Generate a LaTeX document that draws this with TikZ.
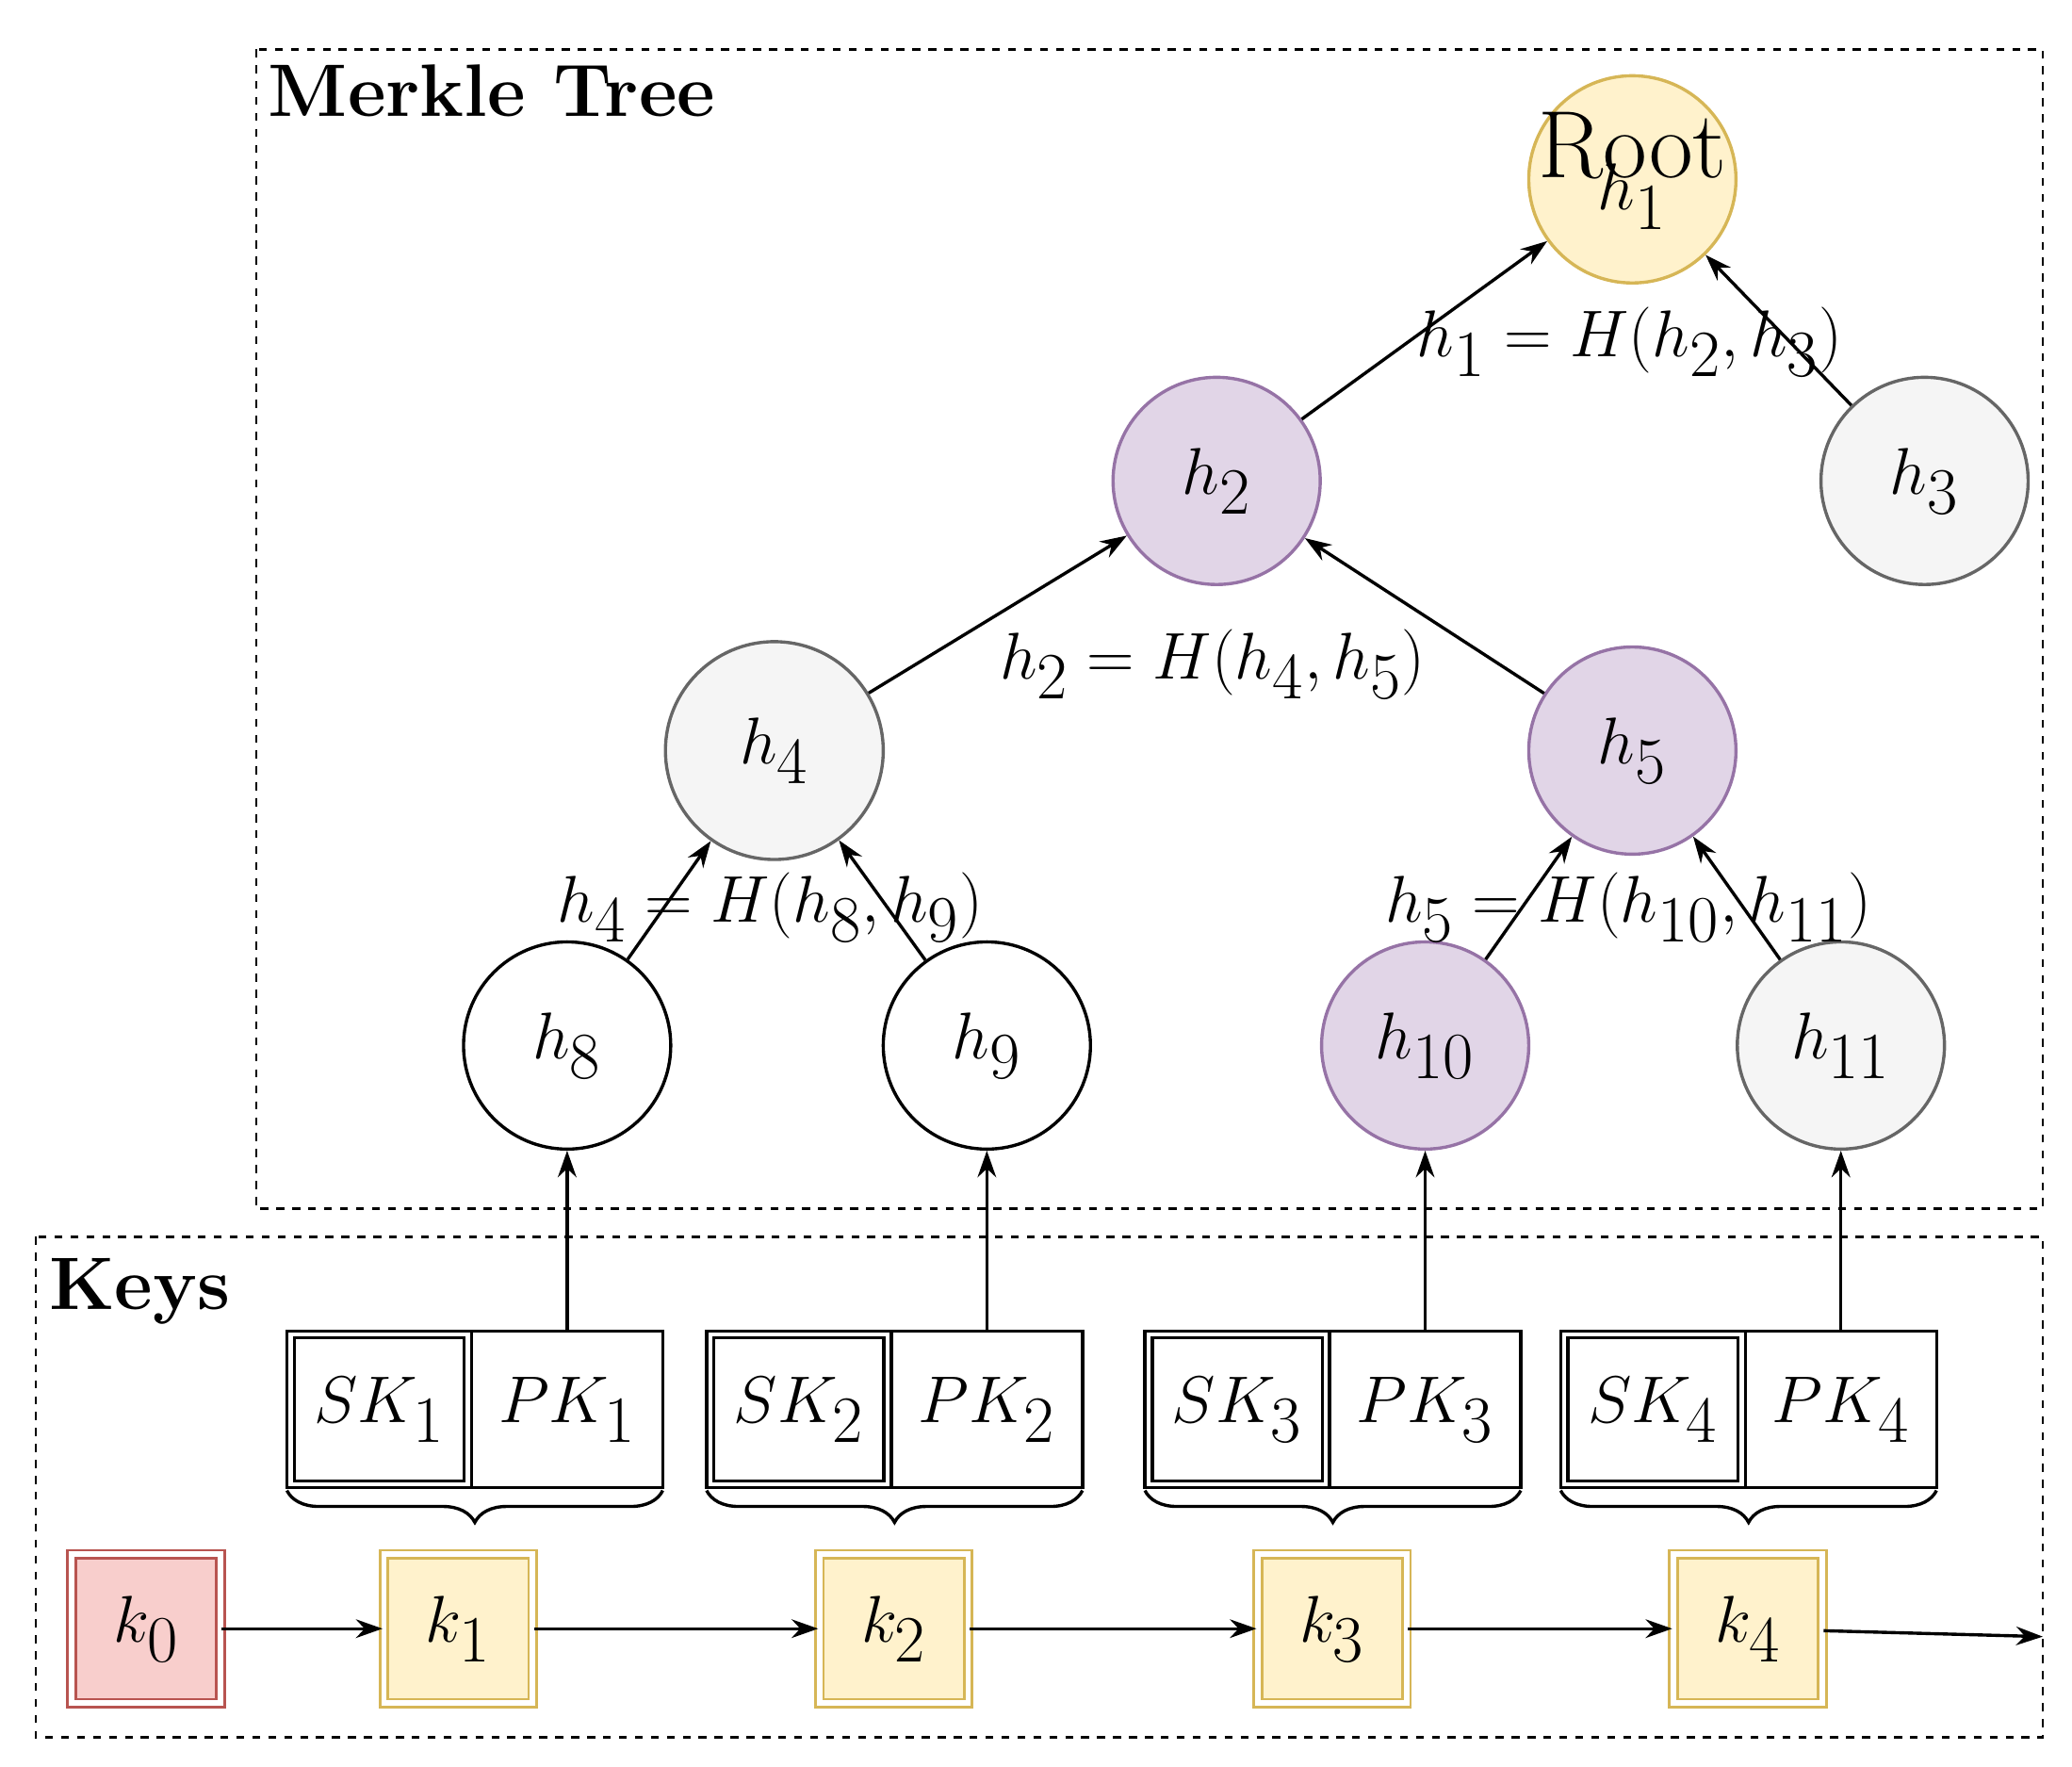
\documentclass[tikz,border=0pt]{standalone}
\usepackage{amsmath}
\usetikzlibrary{arrows.meta,decorations.pathreplacing}
\definecolor{yf}{HTML}{FFF2CC}\definecolor{ys}{HTML}{D6B656}
\definecolor{pf}{HTML}{E1D5E7}\definecolor{ps}{HTML}{9673A6}
\definecolor{gf}{HTML}{F5F5F5}\definecolor{gs}{HTML}{666666}
\definecolor{rf}{HTML}{F8CECC}\definecolor{rs}{HTML}{B85450}
\begin{document}
\begin{tikzpicture}[x=0.5pt,y=-0.5pt,
 big/.style={font=\fontsize{35}{40}\selectfont},
 circ/.style={circle,draw,line width=1.2pt,minimum size=78pt,inner sep=0pt,big},
 yel/.style={fill=yf,draw=ys},pur/.style={fill=pf,draw=ps},gry/.style={fill=gf,draw=gs},
 kbox/.style={draw,double,double distance=2pt,line width=1pt,minimum size=56pt,inner sep=0pt,big},
 arr/.style={-{Stealth[length=10pt,width=7pt]},line width=1.2pt},
 lbl/.style={font=\fontsize{36}{40}\selectfont},
 frame/.style={draw,dashed,line width=1pt}]
\useasboundingbox (0,0) rectangle (1560,1330);
\draw[frame] (193,37) rectangle (1538,910);
\draw[frame] (27,931) rectangle (1538,1308);
\node[anchor=north west,font=\bfseries\fontsize{28}{32}\selectfont] (mt) at (195,42) {Merkle Tree};
\node[anchor=north west,font=\bfseries\fontsize{28}{32}\selectfont] (ky) at (30,940) {Keys};
\node[circ,yel] (root) at (1229,135) {};
\node[lbl] (rt) at (1229,110) {Root};
\node[lbl] (rh) at (1229,148) {$h_1$};
\node[circ,pur] (h2) at (916,362) {$h_2$};
\node[circ,gry] (h3) at (1449,362) {$h_3$};
\node[circ,gry,minimum size=82pt] (h4) at (583,565) {$h_4$};
\node[circ,pur] (h5) at (1229,565) {$h_5$};
\node[circ] (h8) at (427,787) {$h_8$};
\node[circ] (h9) at (743,787) {$h_9$};
\node[circ,pur] (h10) at (1073,787) {$h_{10}$};
\node[circ,gry] (h11) at (1386,787) {$h_{11}$};
\draw[arr] (h2) -- (root); \draw[arr] (h3) -- (root);
\draw[arr] (h4) -- (h2); \draw[arr] (h5) -- (h2);
\draw[arr] (h8) -- (h4); \draw[arr] (h9) -- (h4);
\draw[arr] (h10) -- (h5); \draw[arr] (h11) -- (h5);
\node[lbl] (e1) at (1227,257) {$h_1 = H(h_2,h_3)$};
\node[lbl] (e2) at (913,500) {$h_2 = H(h_4,h_5)$};
\node[lbl] (e4) at (580,683) {$h_4 = H(h_8,h_9)$};
\node[lbl] (e5) at (1226,683) {$h_5 = H(h_{10},h_{11})$};
\foreach \x/\i/\kx in {216/1/345,532/2/673,862/3/1003,1175/4/1316}{
  \node[draw,line width=1.2pt,minimum width=141.5pt,minimum height=59pt,inner sep=0pt] (pair\i) at (\x+141.5,1061) {};
  \node[draw,line width=1.2pt,minimum width=69.5pt,minimum height=59pt,inner sep=0pt] (sko\i) at (\x+69.5,1061) {};
  \node[draw,line width=1.2pt,minimum width=64pt,minimum height=54pt,inner sep=0pt,big] (sk\i) at (\x+69.5,1061) {$SK_{\i}$};
  \node[big] (pk\i) at (\x+211,1061) {$PK_{\i}$};
  \node[kbox,fill=yf,draw=ys] (k\i) at (\kx,1226) {$k_{\i}$};
  \draw[decorate,decoration={brace,mirror,amplitude=12pt},line width=1.2pt] (\x,1122) -- (\x+283,1122);
}
\draw[arr] (pk1.north |- pair1.north) -- (h8); \draw[arr] (pk2.north |- pair2.north) -- (h9);
\draw[arr] (pk3.north |- pair3.north) -- (h10); \draw[arr] (pk4.north |- pair4.north) -- (h11);
\node[kbox,fill=rf,draw=rs] (k0) at (110,1226) {$k_0$};
\coordinate (end) at (1538,1232);
\draw[arr] (k0) -- (k1); \draw[arr] (k1) -- (k2); \draw[arr] (k2) -- (k3); \draw[arr] (k3) -- (k4);
\draw[arr] (k4) -- (end);
\end{tikzpicture}
\end{document}
